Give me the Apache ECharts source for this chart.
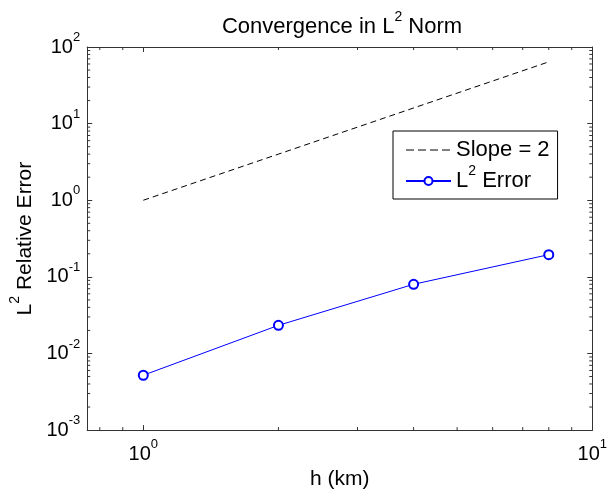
<!DOCTYPE html>
<html>
<head>
<meta charset="utf-8">
<title>Convergence in L2 Norm</title>
<script src="https://cdn.jsdelivr.net/npm/echarts@6/dist/echarts.min.js"></script>
<style>
  html, body { margin: 0; padding: 0; background: #fff; }
  #chart { width: 610px; height: 495px; }
</style>
</head>
<body>
<div id="chart"></div>
<script>
// data
var hValues = [1, 2, 4, 8];
var slopeValues = [1, 4, 16, 64];
var errorValues = [0.0052, 0.0233, 0.08, 0.195];

// axis ranges and minor tick positions
var xRange = [0.75, 10];
var yRange = [0.001, 100];
var xMinorTicks = [0.8, 0.9, 2, 3, 4, 5, 6, 7, 8, 9];
var yDecades = [0.001, 0.01, 0.1, 1, 10];
var minorSteps = [2, 3, 4, 5, 6, 7, 8, 9];

var FONT = '"Liberation Sans", Arial, Helvetica, sans-serif';
var AXIS_COLOR = '#333';

var yMinorTicks = [];
yDecades.forEach(function (d) {
  minorSteps.forEach(function (k) {
    yMinorTicks.push(+(d * k).toPrecision(3));
  });
});

function powLabel(v) {
  var e = Math.log10(v);
  if (Math.abs(e - Math.round(e)) > 1e-6) return '';
  return '{b|10}{s|' + Math.round(e) + '}';
}

var tickRich = {
  b: { fontSize: 20, lineHeight: 32, verticalAlign: 'middle', fontFamily: FONT, color: '#000' },
  s: { fontSize: 13, lineHeight: 13, verticalAlign: 'top', fontFamily: FONT, color: '#000' }
};

function supRich(size, lh) {
  return {
    t: { fontSize: size, lineHeight: lh, verticalAlign: 'middle', fontFamily: FONT, fontWeight: 'normal', color: '#000' },
    s: { fontSize: Math.round(size * 0.65), lineHeight: Math.round(size * 0.65), verticalAlign: 'top', fontFamily: FONT, fontWeight: 'normal', color: '#000' },
    p: { fontSize: size, lineHeight: 22, fontFamily: FONT, fontWeight: 'normal', color: '#000' }
  };
}

function pairs(xs, ys) {
  return xs.map(function (x, i) { return [x, ys[i]]; });
}

var chart = echarts.init(document.getElementById('chart'), null, { renderer: 'canvas' });

var baseX = {
  type: 'log', logBase: 10, min: xRange[0], max: xRange[1],
  axisLine: { show: true, lineStyle: { color: AXIS_COLOR, width: 1 } },
  axisTick: { show: true, inside: true, length: 5, lineStyle: { color: AXIS_COLOR } },
  splitLine: { show: false }
};
var baseY = {
  type: 'log', logBase: 10, min: yRange[0], max: yRange[1],
  axisLine: { show: true, lineStyle: { color: AXIS_COLOR, width: 1 } },
  axisTick: { show: true, inside: true, length: 5, lineStyle: { color: AXIS_COLOR } },
  splitLine: { show: false }
};

chart.setOption({
  animation: false,
  backgroundColor: '#fff',
  title: {
    text: '{t|Convergence in L}{s|2}{t| Norm}',
    left: 337,
    textAlign: 'center',
    top: 5,
    textStyle: { fontWeight: 'normal', rich: supRich(22, 34) }
  },
  grid: { left: 86, top: 47, right: 16, bottom: 63, containLabel: false },
  legend: {
    orient: 'vertical',
    left: 393,
    top: 131,
    data: [
      {
        name: 'Slope = 2',
        itemStyle: { color: 'rgba(0,0,0,0)', borderColor: 'rgba(0,0,0,0)', borderWidth: 0 },
        lineStyle: { color: '#000', width: 1, type: [8, 4] }
      },
      { name: 'L2 Error' }
    ],
    formatter: function (name) {
      if (name === 'L2 Error') return '{t|L}{s|2}{t| Error}';
      return '{p|' + name + '}';
    },
    textStyle: { rich: supRich(22, 34) },
    itemWidth: 45,
    itemHeight: 10,
    itemGap: 3,
    padding: [8, 8, 7, 12],
    borderColor: '#000',
    borderWidth: 1,
    borderRadius: 0,
    backgroundColor: '#fff'
  },
  xAxis: [
    Object.assign({}, baseX, {
      position: 'bottom',
      name: 'h (km)',
      nameLocation: 'middle',
      nameGap: 37,
      nameTextStyle: { fontSize: 21, fontFamily: FONT, color: '#000' },
      axisLabel: { margin: 8, formatter: powLabel, rich: tickRich }
    }),
    Object.assign({}, baseX, { position: 'top', axisLabel: { show: false } })
  ],
  yAxis: [
    Object.assign({}, baseY, {
      position: 'left',
      name: '{t|L}{s|2}{t| Relative Error}',
      nameLocation: 'middle',
      nameGap: 44,
      nameTextStyle: { rich: supRich(21, 34) },
      axisLabel: { margin: 7, formatter: powLabel, rich: tickRich }
    }),
    Object.assign({}, baseY, { position: 'right', axisLabel: { show: false } })
  ],
  series: [
    {
      name: 'Slope = 2',
      type: 'line',
      data: pairs(hValues, slopeValues),
      symbol: 'none',
      itemStyle: { color: '#000' },
      lineStyle: { color: '#000', width: 1, type: [6, 4] },
      z: 3
    },
    {
      name: 'L2 Error',
      type: 'line',
      data: pairs(hValues, errorValues),
      symbol: 'emptyCircle',
      symbolSize: 9,
      itemStyle: { color: '#0000ff', borderWidth: 1 },
      lineStyle: { color: '#0000ff', width: 1 },
      z: 4
    },
    {
      // minor ticks on bottom and top edges
      name: 'xminor',
      type: 'custom',
      silent: true,
      clip: false,
      data: xMinorTicks.map(function (v) { return [v, 1]; }),
      renderItem: function (params, api) {
        var cs = params.coordSys;
        var px = api.coord([api.value(0), 1])[0];
        var st = { stroke: AXIS_COLOR, lineWidth: 1 };
        return {
          type: 'group',
          children: [
            { type: 'line', shape: { x1: px, y1: cs.y + cs.height, x2: px, y2: cs.y + cs.height - 3 }, style: st },
            { type: 'line', shape: { x1: px, y1: cs.y, x2: px, y2: cs.y + 3 }, style: st }
          ]
        };
      }
    },
    {
      // minor ticks on left and right edges
      name: 'yminor',
      type: 'custom',
      silent: true,
      clip: false,
      data: yMinorTicks.map(function (v) { return [1, v]; }),
      renderItem: function (params, api) {
        var cs = params.coordSys;
        var py = api.coord([1, api.value(1)])[1];
        var st = { stroke: AXIS_COLOR, lineWidth: 1 };
        return {
          type: 'group',
          children: [
            { type: 'line', shape: { x1: cs.x, y1: py, x2: cs.x + 3, y2: py }, style: st },
            { type: 'line', shape: { x1: cs.x + cs.width, y1: py, x2: cs.x + cs.width - 3, y2: py }, style: st }
          ]
        };
      }
    }
  ]
});
</script>
</body>
</html>
